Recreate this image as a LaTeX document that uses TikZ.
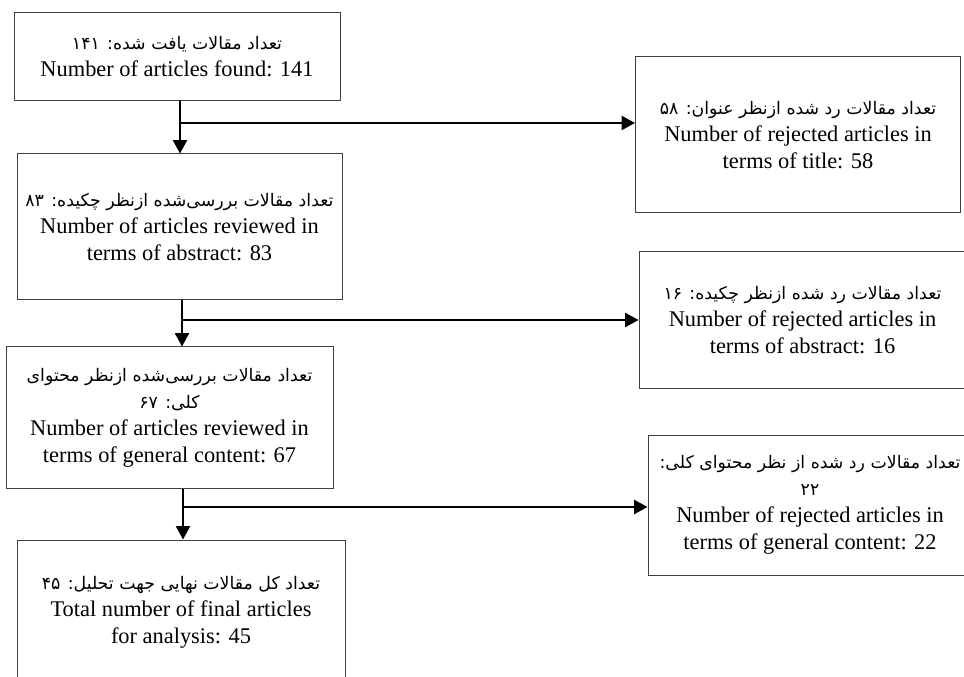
\documentclass[tikz,border=0pt]{standalone}
\usepackage{fontspec}
\setmainfont{Liberation Serif}
\newfontfamily\fafont[Script=Arabic]{DejaVu Sans}
\TeXXeTstate=1
\usetikzlibrary{arrows.meta,positioning}

\tikzset{
  box/.style={draw=black!75, line width=0.75pt, rectangle, inner sep=0pt,
    align=center, font=\fontsize{16.8}{20.3}\selectfont},
  boxsize/.style 2 args={minimum width=#1*0.75pt, minimum height=#2*0.75pt},
  arr/.style={line width=1.6pt, -{Triangle[length=10pt,width=10.5pt]}},
}
\newcommand{\fa}[1]{{\fafont\fontsize{13}{20.3}\selectfont\beginR #1\endR}}

\begin{document}
\begin{tikzpicture}[x=0.75pt,y=-0.75pt]
    \useasboundingbox (0,0) rectangle (964,677);

    % left column
    \node[box,boxsize={326}{88}] (found) at (177,57)
        {\fa{تعداد مقالات یافت شده: ۱۴۱}\\Number of articles found: 141};
    \node[box,boxsize={325}{146}] (abstract) at (179.5,227)
        {\fa{تعداد مقالات بررسی‌شده ازنظر چکیده: ۸۳}\\Number of articles reviewed in\\terms of abstract: 83};
    \node[box,boxsize={327}{141}] (content) at (169.5,417.5)
        {\fa{تعداد مقالات بررسی‌شده ازنظر محتوای}\\\fa{کلی: ۶۷}\\Number of articles reviewed in\\terms of general content: 67};
    \node[box,boxsize={328}{144}] (final) at (181,612)
        {\fa{تعداد کل مقالات نهایی جهت تحلیل: ۴۵}\\Total number of final articles\\for analysis: 45};

    % right column
    \node[box,boxsize={325}{156}] (rejtitle) at (798,135)
        {\fa{تعداد مقالات رد شده ازنظر عنوان: ۵۸}\\Number of rejected articles in\\terms of title: 58};
    \node[box,boxsize={327}{136}] (rejabstract) at (802.5,320)
        {\fa{تعداد مقالات رد شده ازنظر چکیده: ۱۶}\\Number of rejected articles in\\terms of abstract: 16};
    \node[box,boxsize={324}{140}] (rejcontent) at (810,505)
        {\fa{تعداد مقالات رد شده از نظر محتوای کلی:}\\\fa{۲۲}\\Number of rejected articles in\\terms of general content: 22};

    % connectors
    \coordinate (j1) at (180,123);
    \coordinate (j2) at (182,320);
    \coordinate (j3) at (183,507);

    \draw[arr] (found.south -| j1) -- (abstract.north -| j1);
    \draw[arr] (j1) -- (j1 -| rejtitle.west);
    \draw[arr] (abstract.south -| j2) -- (content.north -| j2);
    \draw[arr] (j2) -- (j2 -| rejabstract.west);
    \draw[arr] (content.south -| j3) -- (final.north -| j3);
    \draw[arr] (j3) -- (j3 -| rejcontent.west);
\end{tikzpicture}
\end{document}
